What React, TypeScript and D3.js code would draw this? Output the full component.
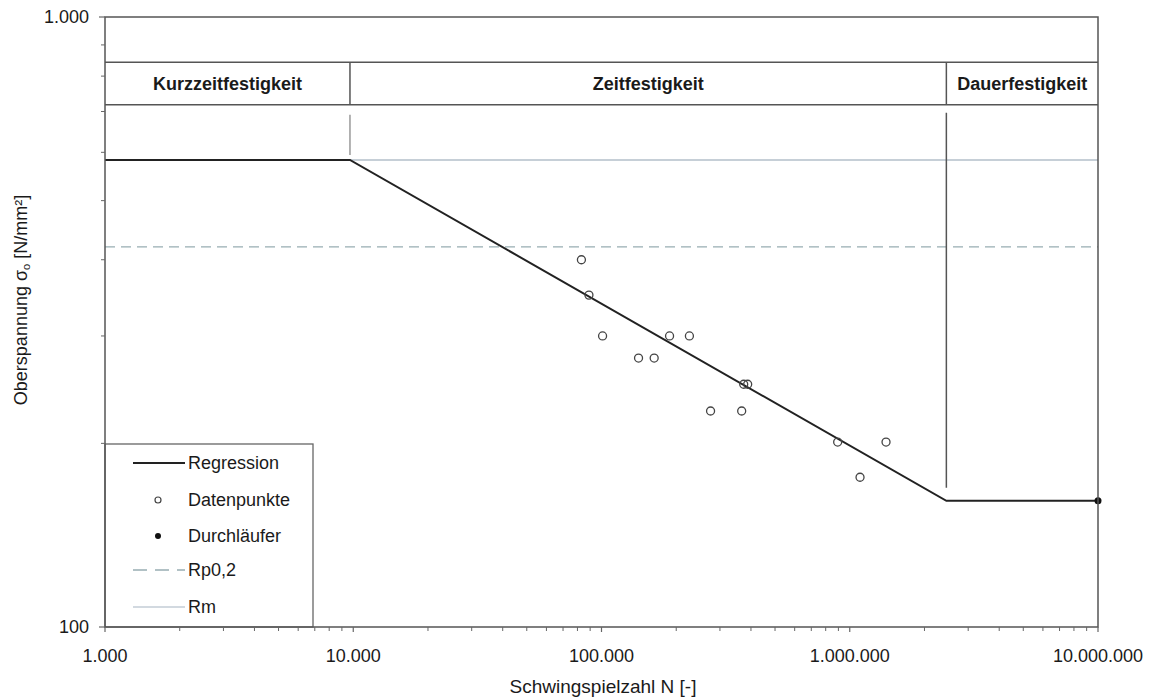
import React from "react";
import * as d3 from "d3";

const dataN = [83000, 89000, 101000, 141000, 163000, 188000, 226000, 275000, 367000, 374000, 388000, 894000, 1400000, 1100000];
const dataS = [400, 350, 300, 276, 276, 300, 300, 226, 226, 250, 250, 201, 201, 176];
const runoutN = [10000000];
const runoutS = [161];
const regressionN = [1000, 9700, 2450000, 10000000];
const regressionS = [583, 583, 161, 161];
const rp02Value = 420;
const rmValue = 583;
const bandNames = ["Kurzzeitfestigkeit", "Zeitfestigkeit", "Dauerfestigkeit"];
const bandBounds = [1000, 9700, 2450000, 10000000];
const bandRow = [843, 718];
const xTickValues = [1000, 10000, 100000, 1000000, 10000000];
const xTickLabels = ["1.000", "10.000", "100.000", "1.000.000", "10.000.000"];
const yTickValues = [100, 1000];
const yTickLabels = ["100", "1.000"];
const legendItems = ["Regression", "Datenpunkte", "Durchläufer", "Rp0,2", "Rm"];

const W = 1156, H = 697;
const L = 105, R = 1098, T = 17, B = 627;
const FONT = "'Liberation Sans', Arial, sans-serif";

export default function App() {
  const x = d3.scaleLog().domain([1000, 10000000]).range([L, R]);
  const y = d3.scaleLog().domain([100, 1000]).range([B, T]);
  const line = d3.line<number>().x((d, i) => x(regressionN[i])).y((d) => y(d));

  const xMinor: number[] = [];
  for (let e = 3; e < 7; e++) for (let k = 2; k <= 9; k++) xMinor.push(k * Math.pow(10, e));
  const yMinor: number[] = [];
  for (let k = 2; k <= 9; k++) yMinor.push(k * 100);

  const axisColor = "#666";
  const textColor = "#1a1a1a";

  const legY = [463, 500, 536, 570, 607];

  return (
    <svg width={W} height={H} style={{ position: "absolute", left: 0, top: 0, background: "#fff" }} fontFamily={FONT}>
      {/* Rm line */}
      <line x1={x(1000)} x2={x(10000000)} y1={y(rmValue)} y2={y(rmValue)} stroke="#b3bfca" strokeWidth={1.5} />
      {/* Rp0.2 dashed */}
      <line x1={x(1000)} x2={x(10000000)} y1={y(rp02Value)} y2={y(rp02Value)} stroke="#98adb2" strokeWidth={1.3} strokeDasharray="10,6" />

      {/* band rows */}
      <line x1={L} x2={R} y1={y(bandRow[0])} y2={y(bandRow[0])} stroke="#555" strokeWidth={1.5} />
      <line x1={L} x2={R} y1={y(bandRow[1])} y2={y(bandRow[1])} stroke="#555" strokeWidth={1.5} />
      {bandBounds.slice(1, 3).map((b, i) => (
        <line key={"bd" + i} x1={x(b)} x2={x(b)} y1={y(bandRow[0])} y2={y(bandRow[1])} stroke="#555" strokeWidth={1.5} />
      ))}
      {bandNames.map((n, i) => (
        <text key={n} x={(x(bandBounds[i]) + x(bandBounds[i + 1])) / 2} y={(y(bandRow[0]) + y(bandRow[1])) / 2 + 6}
          textAnchor="middle" fontSize={18} fontWeight="bold" fill={textColor}>{n}</text>
      ))}
      {/* vertical guides */}
      <line x1={x(bandBounds[1])} x2={x(bandBounds[1])} y1={y(bandRow[1]) + 10} y2={y(rmValue) - 5} stroke="#999" strokeWidth={1.5} />
      <line x1={x(bandBounds[2])} x2={x(bandBounds[2])} y1={y(bandRow[1]) + 8} y2={y(161) - 13} stroke="#555" strokeWidth={1.5} />

      {/* regression */}
      <path d={line(regressionS) || ""} fill="none" stroke="#222" strokeWidth={2} />

      {/* data points */}
      {dataN.map((n, i) => (
        <circle key={"p" + i} cx={x(n)} cy={y(dataS[i])} r={4} fill="none" stroke="#444" strokeWidth={1.3} />
      ))}
      {runoutN.map((n, i) => (
        <circle key={"r" + i} cx={x(n)} cy={y(runoutS[i])} r={3.5} fill="#111" />
      ))}

      {/* legend */}
      <rect x={L} y={444} width={313 - L} height={B - 444} fill="#fff" stroke="#666" strokeWidth={1.3} />
      {legendItems.map((item, i) => {
        const ly = legY[i];
        let sample: React.ReactNode = null;
        if (i === 0) sample = <line x1={133} x2={185} y1={ly} y2={ly} stroke="#222" strokeWidth={2} />;
        if (i === 1) sample = <circle cx={158} cy={ly} r={3} fill="none" stroke="#444" strokeWidth={1.2} />;
        if (i === 2) sample = <circle cx={158} cy={ly} r={3} fill="#111" />;
        if (i === 3) sample = <line x1={133} x2={185} y1={ly} y2={ly} stroke="#98adb2" strokeWidth={1.3} strokeDasharray="14,8" />;
        if (i === 4) sample = <line x1={133} x2={185} y1={ly} y2={ly} stroke="#c3ccd6" strokeWidth={1.5} />;
        return (
          <g key={item}>
            {sample}
            <text x={188} y={ly + 6} fontSize={18} fill={textColor}>{item}</text>
          </g>
        );
      })}

      {/* plot frame */}
      <rect x={L} y={T} width={R - L} height={B - T} fill="none" stroke="#555" strokeWidth={1.5} />

      {/* x ticks */}
      {xMinor.map((v, i) => (
        <line key={"xm" + i} x1={x(v)} x2={x(v)} y1={B} y2={B + 4} stroke={axisColor} strokeWidth={1} />
      ))}
      {xTickValues.map((v, i) => (
        <g key={"xt" + i}>
          <line x1={x(v)} x2={x(v)} y1={B} y2={B + 5} stroke={axisColor} strokeWidth={1.2} />
          <text x={x(v)} y={B + 35} textAnchor="middle" fontSize={18} fill={textColor}>{xTickLabels[i]}</text>
        </g>
      ))}
      {/* y ticks */}
      {yMinor.map((v, i) => (
        <line key={"ym" + i} x1={L - 4} x2={L} y1={y(v)} y2={y(v)} stroke={axisColor} strokeWidth={1} />
      ))}
      {yTickValues.map((v, i) => (
        <g key={"yt" + i}>
          <line x1={L - 6} x2={L} y1={y(v)} y2={y(v)} stroke={axisColor} strokeWidth={1.2} />
          <text x={L - 16} y={y(v) + 6} textAnchor="end" fontSize={18} fill={textColor}>{yTickLabels[i]}</text>
        </g>
      ))}

      {/* axis titles */}
      <text x={603} y={693} textAnchor="middle" fontSize={19} fill={textColor}>Schwingspielzahl N [-]</text>
      <text transform={`translate(27, 300) rotate(-90)`} textAnchor="middle" fontSize={18} fill={textColor}>
        Oberspannung σ<tspan fontSize={11} dy={3}>o</tspan><tspan dy={-3}> [N/mm²]</tspan>
      </text>
    </svg>
  );
}
